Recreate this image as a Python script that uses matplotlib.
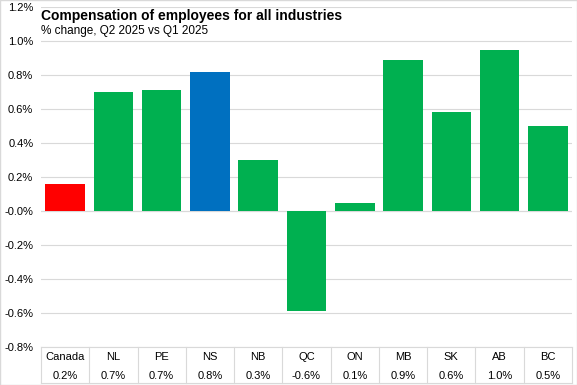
import numpy as np
import matplotlib.pyplot as plt
from matplotlib.ticker import FuncFormatter

plt.rcParams['font.family'] = ['Liberation Sans', 'DejaVu Sans']

regions = ['Canada', 'NL', 'PE', 'NS', 'NB', 'QC', 'ON', 'MB', 'SK', 'AB', 'BC']
changes = [0.16, 0.70, 0.71, 0.82, 0.30, -0.59, 0.05, 0.89, 0.58, 0.95, 0.50]
labels = ['0.2%', '0.7%', '0.7%', '0.8%', '0.3%', '-0.6%', '0.1%', '0.9%', '0.6%', '1.0%', '0.5%']
colors = ['#FF0000'] + ['#00B050'] * 2 + ['#0070C0'] + ['#00B050'] * 7

W, H = 577, 385
fig = plt.figure(figsize=(W / 100, H / 100), dpi=100)
ax = fig.add_axes([41 / W, (H - 347) / H, (572 - 41) / W, (347 - 7) / H])

x = np.arange(len(regions))
ax.bar(x, changes, width=0.82, color=colors, zorder=3)

ax.set_xlim(-0.5, len(regions) - 0.5)
ax.set_ylim(-0.8, 1.2)
ax.set_yticks(np.arange(-0.8, 1.21, 0.2))
ax.yaxis.set_major_formatter(FuncFormatter(lambda v, p: f'{v:.1f}%'))
ax.tick_params(axis='y', length=0, labelsize=8, pad=5.5, colors='#000000')
ax.set_xticks([])
ax.grid(axis='y', color='#D9D9D9', linewidth=0.8, zorder=0)
for s in ['left', 'right', 'top']:
    ax.spines[s].set_visible(False)
ax.spines['bottom'].set_color('#D9D9D9')
ax.axhline(0, color='#D9D9D9', linewidth=0.8, zorder=2)

# table below the chart
trans = ax.get_xaxis_transform()
row1 = -(357 - 347) / 340
row2 = -(376 - 347) / 340
bottom = -(383 - 347) / 340
for i, (r, lab) in enumerate(zip(regions, labels)):
    ax.text(i, row1, r, transform=trans, ha='center', va='center', fontsize=8, clip_on=False)
    ax.text(i, row2, lab, transform=trans, ha='center', va='center', fontsize=8, clip_on=False)
for b in np.arange(-0.5, len(regions), 1.0):
    ax.plot([b, b], [0, bottom], transform=trans, color='#D9D9D9', linewidth=0.8, clip_on=False)
ax.plot([-0.5, len(regions) - 0.5], [bottom, bottom], transform=trans, color='#D9D9D9',
        linewidth=0.8, clip_on=False)

fig.text(41 / W, 1 - 16 / H, 'Compensation of employees for all industries', fontsize=10,
         fontweight='bold', va='center', ha='left')
fig.text(41 / W, 1 - 31 / H, '% change, Q2 2025 vs Q1 2025', fontsize=8.5, va='center', ha='left')

fig.patches.append(plt.Rectangle((0, 0), 1, 1, transform=fig.transFigure, fill=False,
                                 edgecolor='#D9D9D9', linewidth=1))

fig.savefig('out.png', dpi=100)
